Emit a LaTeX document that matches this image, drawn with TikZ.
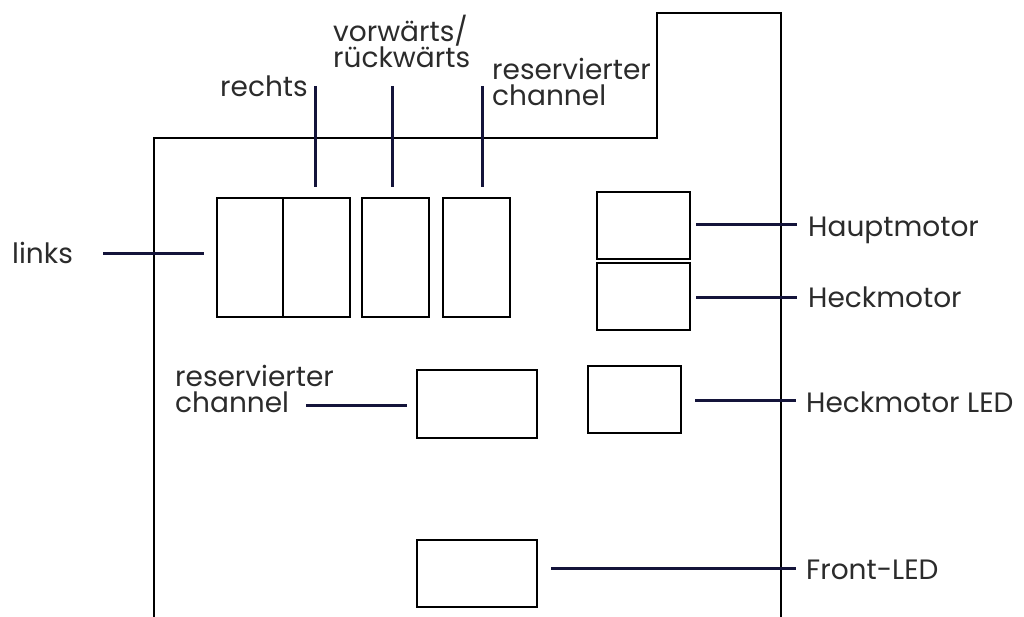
\documentclass[tikz,border=0pt]{standalone}
\usepackage{fontspec}
\setmainfont{Poppins}
\definecolor{conn}{HTML}{14143A}
\definecolor{txt}{HTML}{2B2B2B}
\begin{document}
\begin{tikzpicture}[x=1pt,y=-1pt,
  box/.style={draw=black,line width=1.8pt,minimum width=#1,inner sep=0pt,anchor=north west},
  lbl/.style={text=txt,font=\fontsize{28}{26}\selectfont,inner sep=0pt,anchor=base west,align=left},
  wire/.style={draw=conn,line width=3pt},
  outline/.style={draw=black,line width=1.8pt}]
\useasboundingbox (0,0) rectangle (1024,617);
% outline
\draw[outline] (154,617) -- (154,138) -- (657,138) -- (657,13) -- (781,13) -- (781,617);
% boxes
\node[box=66pt,minimum height=119pt] (b1) at (216,197) {};
\node[box=67pt,minimum height=119pt] (b2) at (282,197) {};
\node[box=67pt,minimum height=119pt] (b3) at (361,197) {};
\node[box=67pt,minimum height=119pt] (b4) at (442,197) {};
\node[box=93pt,minimum height=67pt] (hm) at (596,191) {};
\node[box=93pt,minimum height=67pt] (hk) at (596,262) {};
\node[box=120pt,minimum height=68pt] (rc) at (416,369) {};
\node[box=93pt,minimum height=67pt] (hl) at (587,365) {};
\node[box=120pt,minimum height=67pt] (fl) at (416,539) {};
% labels
\node[lbl] (tlinks) at (12,264) {links};
\node[lbl] (trechts) at (220,97) {rechts};
\node[lbl] (tvor) at (333,68) {vorwärts/\\rückwärts};
\node[lbl] (tres) at (492,106) {reservierter\\channel};
\node[lbl] (thaupt) at (808,237) {Hauptmotor};
\node[lbl] (theck) at (808,308) {Heckmotor};
\node[lbl] (tres2) at (175,412) {reservierter\\channel};
\node[lbl] (thled) at (806,412) {Heckmotor LED};
\node[lbl] (tfront) at (806,579) {Front-LED};
% wire ends
\coordinate (w1a) at (103,254); \coordinate (w1b) at (204,254);
\coordinate (w2a) at (315,86);  \coordinate (w2b) at (315,187);
\coordinate (w3a) at (392,86);  \coordinate (w3b) at (392,187);
\coordinate (w4a) at (482,86);  \coordinate (w4b) at (482,187);
\coordinate (w5a) at (696,225); \coordinate (w5b) at (797,225);
\coordinate (w6a) at (696,297); \coordinate (w6b) at (797,297);
\coordinate (w7a) at (306,405); \coordinate (w7b) at (407,405);
\coordinate (w8a) at (695,400); \coordinate (w8b) at (796,400);
\coordinate (w9a) at (551,568); \coordinate (w9b) at (796,568);
\foreach \i in {1,...,9} \draw[wire] (w\i a) -- (w\i b);
\end{tikzpicture}
\end{document}
